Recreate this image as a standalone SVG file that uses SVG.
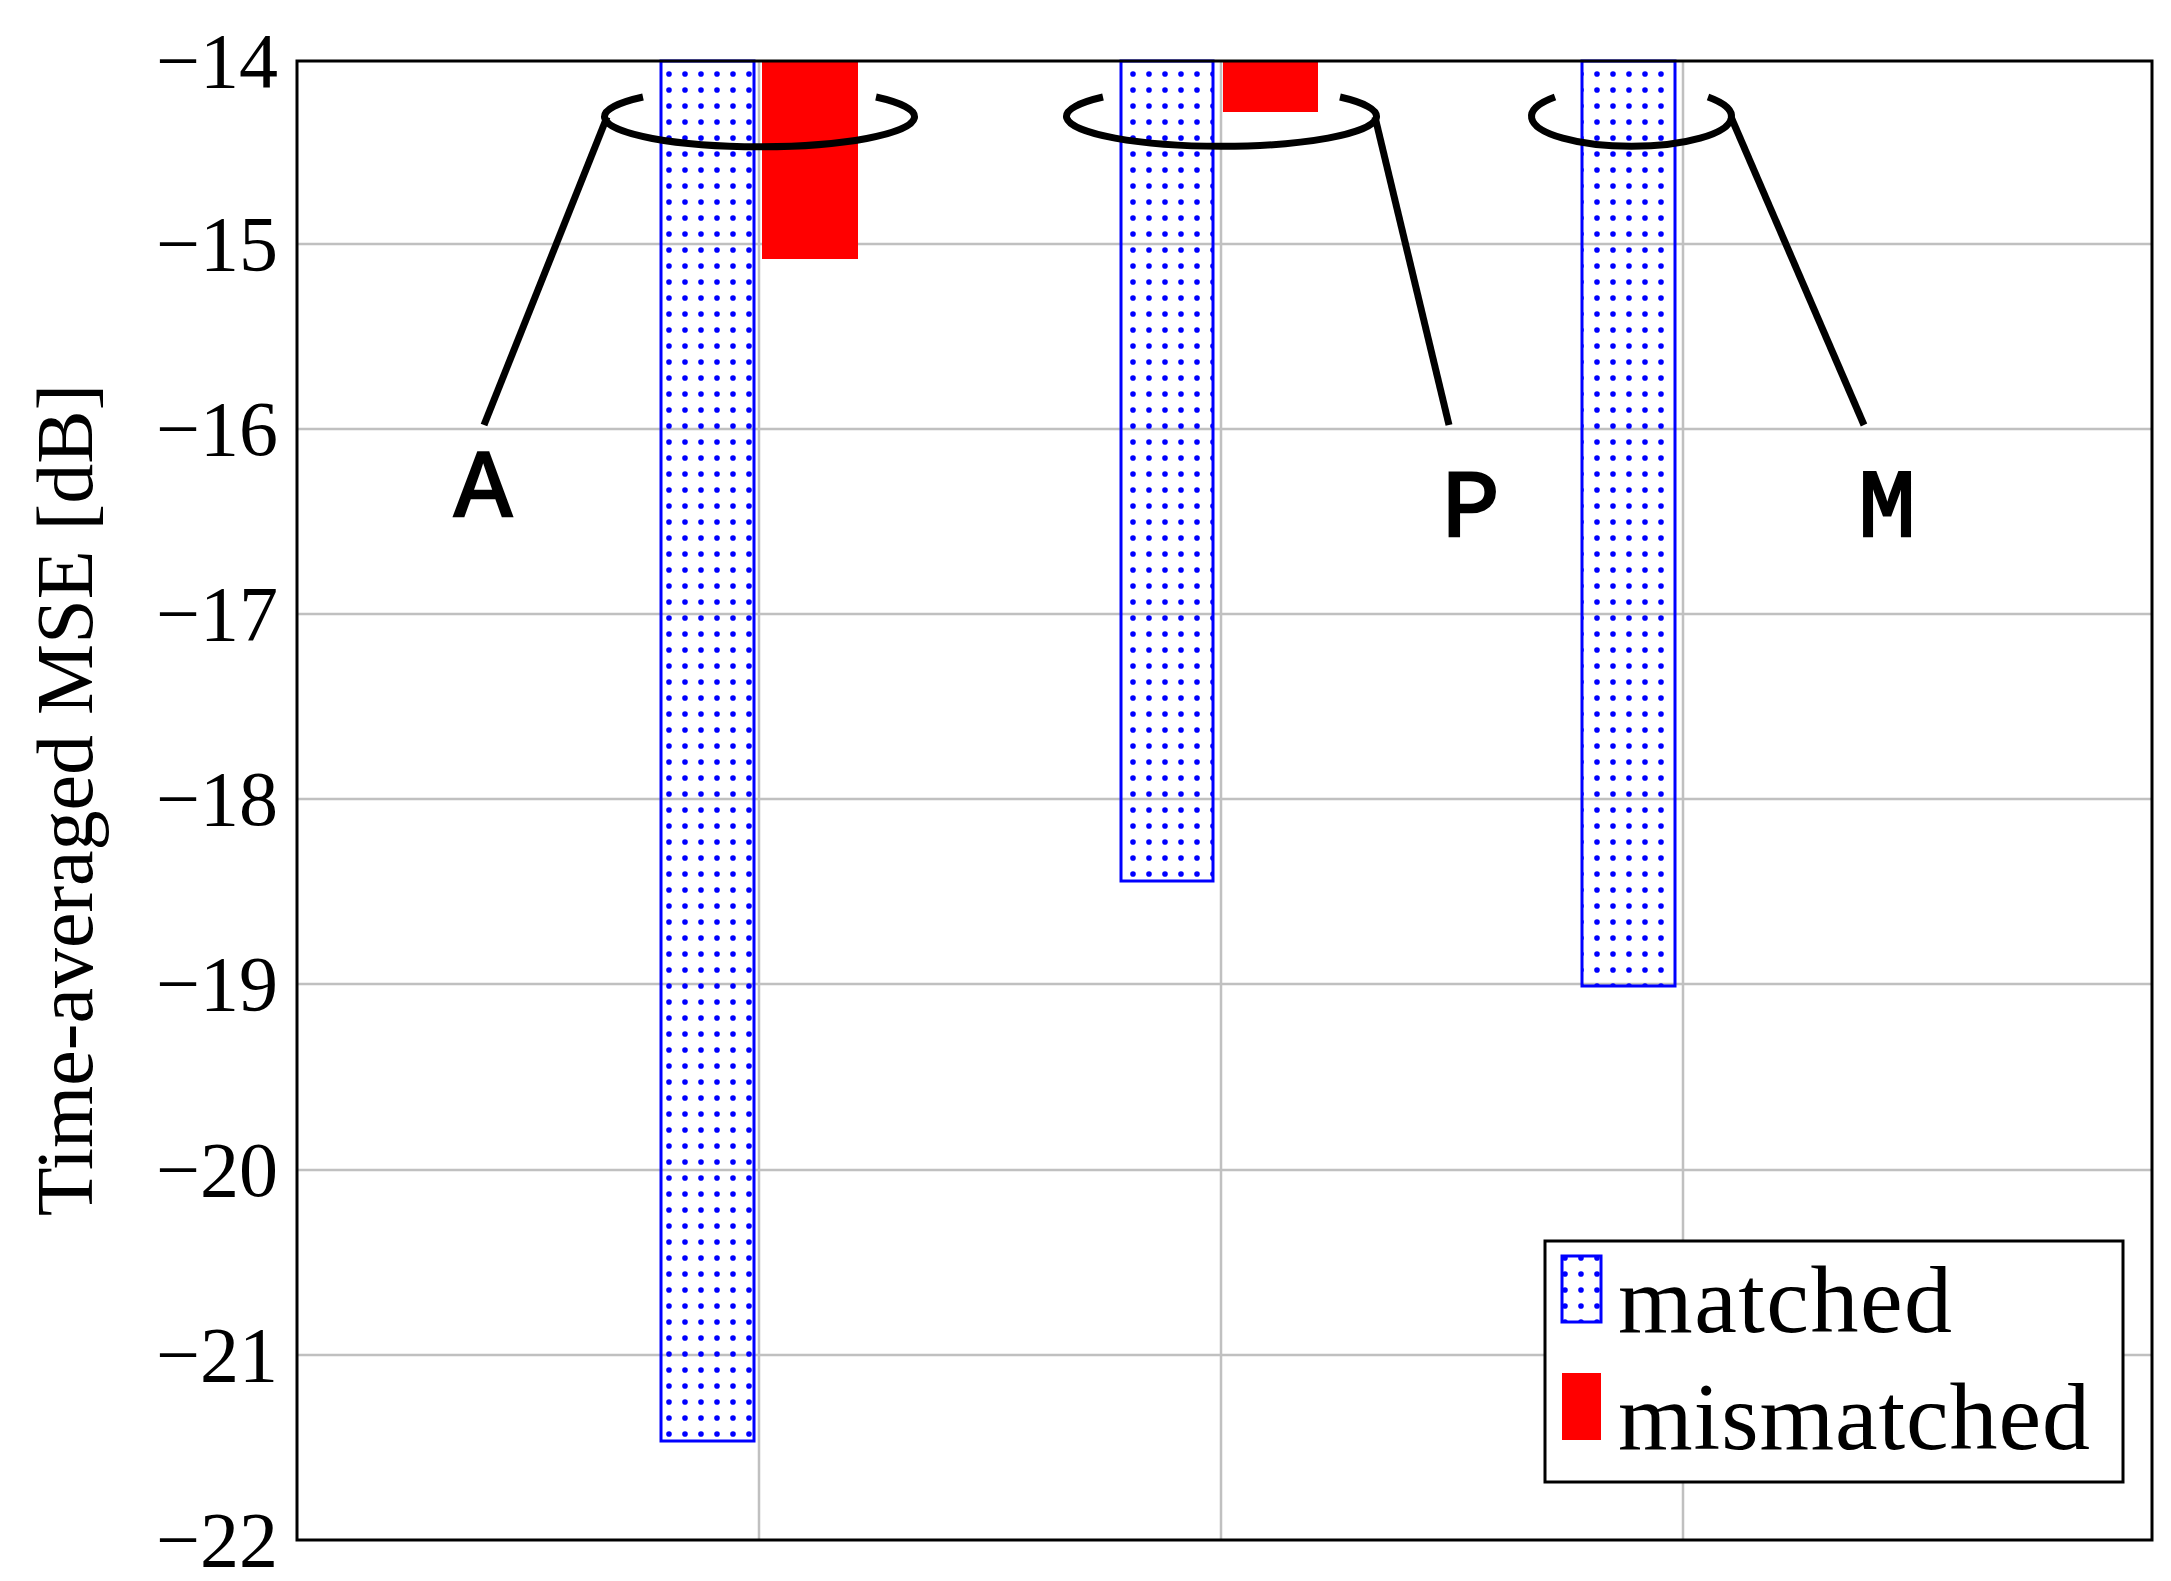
<svg xmlns="http://www.w3.org/2000/svg" width="2171" height="1581" viewBox="0 0 2171 1581">
<defs>
<pattern id="dots" patternUnits="userSpaceOnUse" x="5" y="2" width="16" height="16"><circle cx="8" cy="8" r="2.8" fill="#0000ff"/></pattern>
<style>
.grid{stroke:#c0c0c0;stroke-width:2.5;fill:none}
.tick{font-family:"Liberation Serif",serif;font-size:78px;text-anchor:end;fill:#000}
.matched{fill:url(#dots);stroke:#0000ff;stroke-width:3}
.mism{fill:#ff0000}
.ring{fill:none;stroke:#000;stroke-width:7}
.lab{font-family:"Liberation Mono",monospace;font-size:96px;text-anchor:middle;fill:#000;stroke:#000;stroke-width:2.5}
.leg{font-family:"Liberation Serif",serif;font-size:96px;fill:#000}
</style>
</defs>
<rect width="2171" height="1581" fill="#fff"/>
<g id="grid">
<path class="grid" d="M297 244H2152M297 429H2152M297 614H2152M297 799H2152M297 984H2152M297 1170H2152M297 1355H2152M759 61V1540M1221 61V1540M1683 61V1540"/>
</g>
<g id="ticks">
<text class="tick" x="278" y="87">−14</text>
<text class="tick" x="278" y="270">−15</text>
<text class="tick" x="278" y="455">−16</text>
<text class="tick" x="278" y="640">−17</text>
<text class="tick" x="278" y="825">−18</text>
<text class="tick" x="278" y="1010">−19</text>
<text class="tick" x="278" y="1196">−20</text>
<text class="tick" x="278" y="1381">−21</text>
<text class="tick" x="278" y="1566">−22</text>
</g>
<text id="ylabel" font-family="'Liberation Serif',serif" font-size="80" text-anchor="middle" transform="translate(92,800) rotate(-90)">Time-averaged MSE [dB]</text>
<g id="bars">
<rect class="matched" x="661" y="61" width="93" height="1380"/>
<rect class="mism" x="762" y="61" width="96" height="198"/>
<rect class="matched" x="1121" y="61" width="92" height="820"/>
<rect class="mism" x="1223" y="61" width="95" height="51"/>
<rect class="matched" x="1582" y="61" width="93" height="925"/>
</g>
<rect x="297" y="61" width="1855" height="1479" fill="none" stroke="#000" stroke-width="3"/>
<g id="connectors">
<path class="ring" d="M643 97 A155 30 0 1 0 876 97"/>
<path class="ring" d="M1103 97 A155 30 0 1 0 1340 97"/>
<path class="ring" d="M1555 97 A100 30 0 1 0 1708 97"/>
<path class="ring" d="M607 117 L484 425"/>
<path class="ring" d="M1375 117 L1449 425"/>
<path class="ring" d="M1731 117 L1864 425"/>
</g>
<g id="labelA"><text class="lab" x="483" y="516">A</text></g>
<g id="labelP"><text class="lab" x="1471" y="536">P</text></g>
<g id="labelM"><text class="lab" x="1887" y="536">M</text></g>
<g id="legend">
<rect x="1545" y="1241" width="578" height="241" fill="#fff" stroke="#000" stroke-width="3"/>
<rect class="matched" x="1562" y="1256" width="39" height="66"/>
<text class="leg" x="1618" y="1332" textLength="334">matched</text>
<rect class="mism" x="1562" y="1373" width="39" height="67"/>
<text class="leg" x="1618" y="1449" textLength="472">mismatched</text>
</g>
</svg>
